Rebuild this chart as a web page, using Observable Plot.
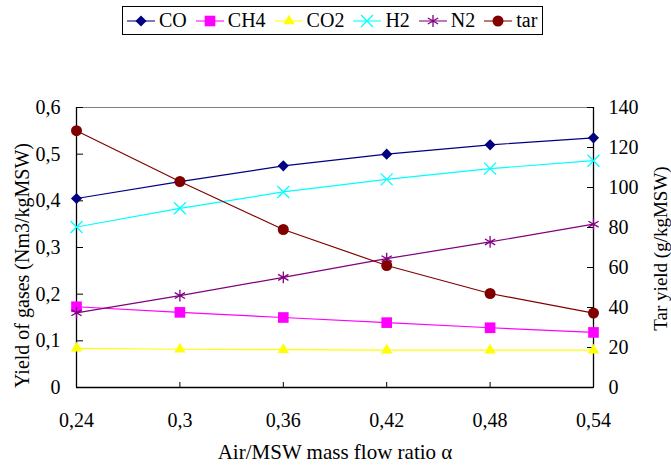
<!DOCTYPE html>
<html>
<head>
<meta charset="utf-8">
<script src="https://cdn.jsdelivr.net/npm/d3@7"></script>
<script src="https://cdn.jsdelivr.net/npm/@observablehq/plot@0.6"></script>
<style>
  body { margin: 0; background: #fff; font-family: "Liberation Serif", "Times New Roman", Times, serif; }
  #legend { height: 44px; position: relative; }
  #legendBox { position: absolute; left: 122px; top: 6px; width: 419px; height: 27px; border: 1px solid #000;
    display: flex; align-items: center; font-size: 20px; box-sizing: content-box;
    font-family: "Liberation Serif", "Times New Roman", Times, serif; }
  .item { display: flex; align-items: center; margin-left: 4px; }
  .item span { margin-left: 4px; margin-right: 5px; }
  svg text { font-family: "Liberation Serif", "Times New Roman", Times, serif; }
</style>
</head>
<body>
<div id="legend"><div id="legendBox"></div></div>
<div id="chart"></div>
<script>
const alpha = [0.24, 0.30, 0.36, 0.42, 0.48, 0.54];
const CO  = [0.405, 0.441, 0.475, 0.500, 0.520, 0.535];
const CH4 = [0.173, 0.161, 0.150, 0.139, 0.128, 0.118];
const CO2 = [0.084, 0.082, 0.081, 0.080, 0.080, 0.080];
const H2  = [0.344, 0.384, 0.419, 0.446, 0.469, 0.486];
const N2  = [0.160, 0.197, 0.236, 0.276, 0.312, 0.350];
const tar = [128.4, 103.0, 79.0, 61.0, 47.0, 37.2];

const leftTicks = [0, 0.1, 0.2, 0.3, 0.4, 0.5, 0.6];
const rightTicks = [0, 20, 40, 60, 80, 100, 120, 140];
const xTitle = "Air/MSW mass flow ratio α";
const yTitle = "Yield of gases (Nm3/kgMSW)";
const y2Title = "Tar yield (g/kgMSW)";
const tarMax = 140, gasMax = 0.6;
const toLeft = v => v * gasMax / tarMax;
const FONT = "Liberation Serif, Times New Roman, serif";

const series = [
  {name: "CO",  values: CO,  color: "#000080", symbol: "diamond2", r: 5,   fill: true},
  {name: "CH4", values: CH4, color: "#FF00FF", symbol: "square",   r: 6,   fill: true},
  {name: "CO2", values: CO2, color: "#FFFF00", symbol: "triangle", r: 4.2, fill: true},
  {name: "H2",  values: H2,  color: "#00FFFF", symbol: "times",    r: 5.5, fill: false},
  {name: "N2",  values: N2,  color: "#800080", symbol: "asterisk", r: 5.6, fill: false},
  {name: "tar", values: tar.map(toLeft), color: "#800000", symbol: "circle", r: 5.5, fill: true}
];

const rows = series.flatMap(s => s.values.map((v, i) => ({series: s.name, x: alpha[i], y: v})));

const marks = [
  Plot.frame({stroke: "#808080", strokeWidth: 1}),
  Plot.ruleX([alpha[0]], {stroke: "#000", strokeWidth: 1.3}),
  Plot.ruleX([alpha[alpha.length - 1]], {stroke: "#000", strokeWidth: 1.3}),
  Plot.ruleY([0], {stroke: "#000", strokeWidth: 1.3}),
  Plot.axisX(alpha, {tickSize: -5, tickPadding: 30, tickFormat: d => String(d).replace(".", ","),
    label: null, fontFamily: FONT}),
  Plot.axisY(leftTicks, {anchor: "left", tickSize: -7, tickPadding: 23, tickFormat: d => String(d).replace(".", ","),
    label: null, fontFamily: FONT}),
  Plot.axisY(rightTicks.map(toLeft), {anchor: "right", tickSize: -7, tickPadding: 22,
    tickFormat: d => String(Math.round(d * tarMax / gasMax)), label: null, fontFamily: FONT}),
  Plot.text([xTitle], {frameAnchor: "bottom", dy: 65, textAnchor: "middle", lineAnchor: "middle", fontFamily: FONT, fontSize: 21}),
  Plot.text([yTitle], {frameAnchor: "left", dx: -54, dy: 18, rotate: -90, textAnchor: "middle", lineAnchor: "middle", fontFamily: FONT, fontSize: 20}),
  Plot.text([y2Title], {frameAnchor: "right", dx: 67, dy: 1, rotate: -90, textAnchor: "middle", lineAnchor: "middle", fontFamily: FONT, fontSize: 19})
];
for (const s of series) {
  const data = rows.filter(d => d.series === s.name);
  marks.push(Plot.line(data, {x: "x", y: "y", stroke: s.color, strokeWidth: 1.2}));
  marks.push(Plot.dot(data, {x: "x", y: "y", symbol: () => s.symbol, r: s.r,
    fill: s.fill ? s.color : "none", stroke: s.fill ? "none" : s.color, strokeWidth: 1.3}));
}

const chart = Plot.plot({
  width: 671, height: 424,
  marginTop: 63, marginBottom: 81, marginLeft: 76, marginRight: 78,
  style: {fontFamily: FONT, fontSize: "20px", background: "#fff", color: "#000"},
  x: {domain: [0.24, 0.54]},
  y: {domain: [0, 0.6]},
  symbol: {type: "identity"},
  marks
});
document.getElementById("chart").appendChild(chart);

// legend
const box = document.getElementById("legendBox");
for (const s of series) {
  const item = document.createElement("div");
  item.className = "item";
  const size = Math.PI * s.r * s.r;
  const sym = {diamond2: d3.symbolDiamond2, square: d3.symbolSquare, triangle: d3.symbolTriangle,
    times: d3.symbolTimes, asterisk: d3.symbolAsterisk, circle: d3.symbolCircle}[s.symbol];
  const path = d3.symbol(sym, size)();
  item.innerHTML = `<svg width="28" height="14"><line x1="0" x2="28" y1="7" y2="7" stroke="${s.color}" stroke-opacity="0.7" stroke-width="1.5"/>` +
    `<path transform="translate(14,7)" d="${path}" fill="${s.fill ? s.color : "none"}" stroke="${s.fill ? "none" : s.color}" stroke-width="1.3"/></svg><span>${s.name}</span>`;
  box.appendChild(item);
}
</script>
</body>
</html>
